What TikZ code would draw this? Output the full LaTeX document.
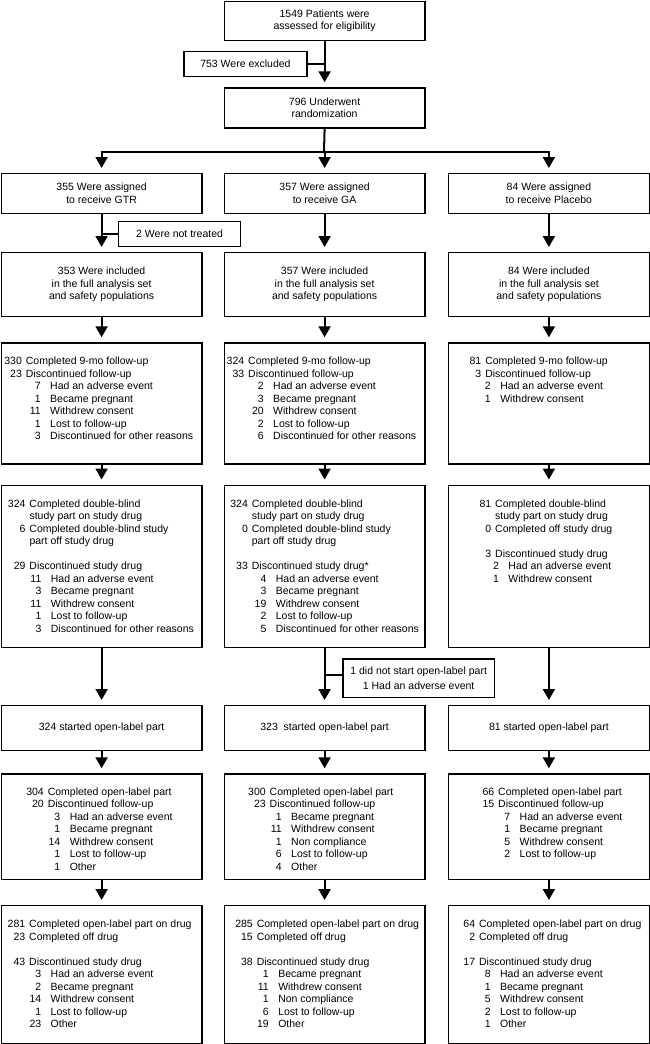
\documentclass[tikz,border=0pt]{standalone}
\usepackage{fontspec}
\setmainfont{Liberation Sans}
\usetikzlibrary{calc}
\usetikzlibrary{arrows.meta}

\newcommand{\boxfont}{\fontsize{10.5}{12.5}\selectfont}
\newlength{\subind}
\newcommand{\mline}[2]{\llap{#1\hspace{4pt}}#2}
\newcommand{\sline}[2]{\hspace*{\dimexpr\subind-9.5pt\relax}\llap{#1}\hspace{9.5pt}#2}

\tikzset{
  flowbox/.style 2 args={draw, line width=1.2pt, anchor=north west, inner sep=0,
    minimum width=#1, minimum height=#2, align=center, font=\boxfont},
  listtext/.style={anchor=base west, inner sep=0, font=\boxfont,
    execute at begin node={\setlength{\subind}{#1}}},
  listtext/.default=21.5pt,
  flow/.style={->, line width=2pt, shorten >=5pt},
  link/.style={line width=1.6pt},
}

\begin{document}
\begin{tikzpicture}[x=1pt, y=-1pt, >={Triangle[width=12pt,length=11pt]}]
\useasboundingbox (0,0) rectangle (649,1044);

\node[flowbox={200.6pt}{39.3pt}] (top) at (223.7,0.7) {1549 Patients were\\assessed for eligibility};
\node[flowbox={122.9pt}{25pt}] (excl) at (183.4,50.7) {753 Were excluded};
\node[flowbox={200.6pt}{40pt}] (rand) at (223.7,87.3) {796 Underwent\\randomization};
\draw[flow] (top.south) -- (rand.north);
\draw[link] (excl.east) -- (excl.east -| top.south);

% arms
\node[flowbox={200.6pt}{39.7pt}] (b2l) at (0.7,173) {355 Were assigned\\to receive GTR};
\node[flowbox={200.6pt}{39.7pt}] (b2m) at (223.7,173) {357 Were assigned\\to receive GA};
\node[flowbox={200.6pt}{39.7pt}] (b2r) at (448,173) {84 Were assigned\\to receive Placebo};
\coordinate (split) at (324,152);
\draw[line width=2pt] (rand.south) -- (split);
\draw[line width=2pt, line cap=rect] (split -| b2l.north) -- (split -| b2r.north);
\foreach \c in {l,m,r}
  \draw[flow] (split -| b2\c.north) -- (b2\c.north);

\node[flowbox={122pt}{24.5pt}] (nt) at (118,221) {2 Were not treated};

\node[flowbox={200.6pt}{64pt}] (b3l) at (0.7,252) {353 Were included\\in the full analysis set\\and safety populations};
\node[flowbox={200.6pt}{64pt}] (b3m) at (223.7,252) {357 Were included\\in the full analysis set\\and safety populations};
\node[flowbox={200.6pt}{64pt}] (b3r) at (448,252) {84 Were included\\in the full analysis set\\and safety populations};

\node[flowbox={200.6pt}{121pt}] (b4l) at (0.7,342.3) {};
\node[flowbox={200.6pt}{121pt}] (b4m) at (223.7,342.3) {};
\node[flowbox={200.6pt}{121pt}] (b4r) at (448,342.3) {};

\node[flowbox={200.6pt}{162.5pt}] (b5l) at (0.7,484.5) {};
\node[flowbox={200.6pt}{162.5pt}] (b5m) at (223.7,484.5) {};
\node[flowbox={200.6pt}{162.5pt}] (b5r) at (448,484.5) {};

\node[flowbox={151.5pt}{38.4pt}] (side) at (342.3,658.3) {1 did not start open-label part\\[2.5pt]1 Had an adverse event};

\node[flowbox={200.6pt}{45pt}] (b6l) at (0.7,705) {324 started open-label part};
\node[flowbox={200.6pt}{45pt}] (b6m) at (223.7,705) {323\ \ started open-label part};
\node[flowbox={200.6pt}{45pt}] (b6r) at (448,705) {81 started open-label part};

\node[flowbox={200.6pt}{105.7pt}] (b7l) at (0.7,773.3) {};
\node[flowbox={200.6pt}{105.7pt}] (b7m) at (223.7,773.3) {};
\node[flowbox={200.6pt}{105.7pt}] (b7r) at (448,773.3) {};

\node[flowbox={200.6pt}{138.3pt}] (b8l) at (0.7,905) {};
\node[flowbox={200.6pt}{138.3pt}] (b8m) at (223.7,905) {};
\node[flowbox={200.6pt}{138.3pt}] (b8r) at (448,905) {};

\foreach \a/\b in {2/3,3/4,4/5,5/6,6/7,7/8}
  \foreach \c in {l,m,r}
    \draw[flow] (b\a\c.south) -- (b\b\c.north);
\draw[link] (nt.west) -- (nt.west -| b2l.south);
\draw[link] ([yshift=3pt]side.west) -- ([yshift=3pt]side.west -| b5m.south);

% 9-mo follow-up
\node[listtext=24.3pt] (t4l) at ($(b4l.north west)+(25,22.3)$) {\begin{tabular}[t]{@{}l@{}}
\mline{330}{Completed 9-mo follow-up}\\
\mline{23}{Discontinued follow-up}\\
\sline{7}{Had an adverse event}\\
\sline{1}{Became pregnant}\\
\sline{11}{Withdrew consent}\\
\sline{1}{Lost to follow-up}\\
\sline{3}{Discontinued for other reasons}
\end{tabular}};
\node[listtext=25pt] (t4m) at ($(b4m.north west)+(24.3,22.3)$) {\begin{tabular}[t]{@{}l@{}}
\mline{324}{Completed 9-mo follow-up}\\
\mline{33}{Discontinued follow-up}\\
\sline{2}{Had an adverse event}\\
\sline{3}{Became pregnant}\\
\sline{20}{Withdrew consent}\\
\sline{2}{Lost to follow-up}\\
\sline{6}{Discontinued for other reasons}
\end{tabular}};
\node[listtext=15pt] (t4r) at ($(b4r.north west)+(37.1,22.3)$) {\begin{tabular}[t]{@{}l@{}}
\mline{81}{Completed 9-mo follow-up}\\
\mline{3}{Discontinued follow-up}\\
\sline{2}{Had an adverse event}\\
\sline{1}{Withdrew consent}
\end{tabular}};

% double-blind part
\node[listtext=21.4pt] (t5l) at ($(b5l.north west)+(28.6,22.5)$) {\begin{tabular}[t]{@{}l@{}}
\mline{324}{Completed double-blind}\\
study part on study drug\\
\mline{6}{Completed double-blind study}\\
part off study drug\\[12.5pt]
\mline{29}{Discontinued study drug}\\
\sline{11}{Had an adverse event}\\
\sline{3}{Became pregnant}\\
\sline{11}{Withdrew consent}\\
\sline{1}{Lost to follow-up}\\
\sline{3}{Discontinued for other reasons}
\end{tabular}};
\node[listtext=24pt] (t5m) at ($(b5m.north west)+(28,22.5)$) {\begin{tabular}[t]{@{}l@{}}
\mline{324}{Completed double-blind}\\
study part on study drug\\
\mline{0}{Completed double-blind study}\\
part off study drug\\[12.5pt]
\mline{33}{Discontinued study drug*}\\
\sline{4}{Had an adverse event}\\
\sline{3}{Became pregnant}\\
\sline{19}{Withdrew consent}\\
\sline{2}{Lost to follow-up}\\
\sline{5}{Discontinued for other reasons}
\end{tabular}};
\node[listtext=13.3pt] (t5r) at ($(b5r.north west)+(47,22.5)$) {\begin{tabular}[t]{@{}l@{}}
\mline{81}{Completed double-blind}\\
study part on study drug\\
\mline{0}{Completed off study drug}\\[12.5pt]
\mline{3}{Discontinued study drug}\\
\sline{2}{Had an adverse event}\\
\sline{1}{Withdrew consent}
\end{tabular}};

% open-label part
\node[listtext=22pt] (t7l) at ($(b7l.north west)+(46.9,22.1)$) {\begin{tabular}[t]{@{}l@{}}
\mline{304}{Completed open-label part}\\
\mline{20}{Discontinued follow-up}\\
\sline{3}{Had an adverse event}\\
\sline{1}{Became pregnant}\\
\sline{14}{Withdrew consent}\\
\sline{1}{Lost to follow-up}\\
\sline{1}{Other}
\end{tabular}};
\node[listtext] (t7m) at ($(b7m.north west)+(45.8,22.1)$) {\begin{tabular}[t]{@{}l@{}}
\mline{300}{Completed open-label part}\\
\mline{23}{Discontinued follow-up}\\
\sline{1}{Became pregnant}\\
\sline{11}{Withdrew consent}\\
\sline{1}{Non compliance}\\
\sline{6}{Lost to follow-up}\\
\sline{4}{Other}
\end{tabular}};
\node[listtext] (t7r) at ($(b7r.north west)+(50,22.1)$) {\begin{tabular}[t]{@{}l@{}}
\mline{66}{Completed open-label part}\\
\mline{15}{Discontinued follow-up}\\
\sline{7}{Had an adverse event}\\
\sline{1}{Became pregnant}\\
\sline{5}{Withdrew consent}\\
\sline{2}{Lost to follow-up}
\end{tabular}};

\node[listtext] (t8l) at ($(b8l.north west)+(28.3,22.7)$) {\begin{tabular}[t]{@{}l@{}}
\mline{281}{Completed open-label part on drug}\\
\mline{23}{Completed off drug}\\[12.5pt]
\mline{43}{Discontinued study drug}\\
\sline{3}{Had an adverse event}\\
\sline{2}{Became pregnant}\\
\sline{14}{Withdrew consent}\\
\sline{1}{Lost to follow-up}\\
\sline{23}{Other}
\end{tabular}};
\node[listtext] (t8m) at ($(b8m.north west)+(32.9,22.7)$) {\begin{tabular}[t]{@{}l@{}}
\mline{285}{Completed open-label part on drug}\\
\mline{15}{Completed off drug}\\[12.5pt]
\mline{38}{Discontinued study drug}\\
\sline{1}{Became pregnant}\\
\sline{11}{Withdrew consent}\\
\sline{1}{Non compliance}\\
\sline{6}{Lost to follow-up}\\
\sline{19}{Other}
\end{tabular}};
\node[listtext=21pt] (t8r) at ($(b8r.north west)+(30.9,22.7)$) {\begin{tabular}[t]{@{}l@{}}
\mline{64}{Completed open-label part on drug}\\
\mline{2}{Completed off drug}\\[12.5pt]
\mline{17}{Discontinued study drug}\\
\sline{8}{Had an adverse event}\\
\sline{1}{Became pregnant}\\
\sline{5}{Withdrew consent}\\
\sline{2}{Lost to follow-up}\\
\sline{1}{Other}
\end{tabular}};
\end{tikzpicture}
\end{document}
